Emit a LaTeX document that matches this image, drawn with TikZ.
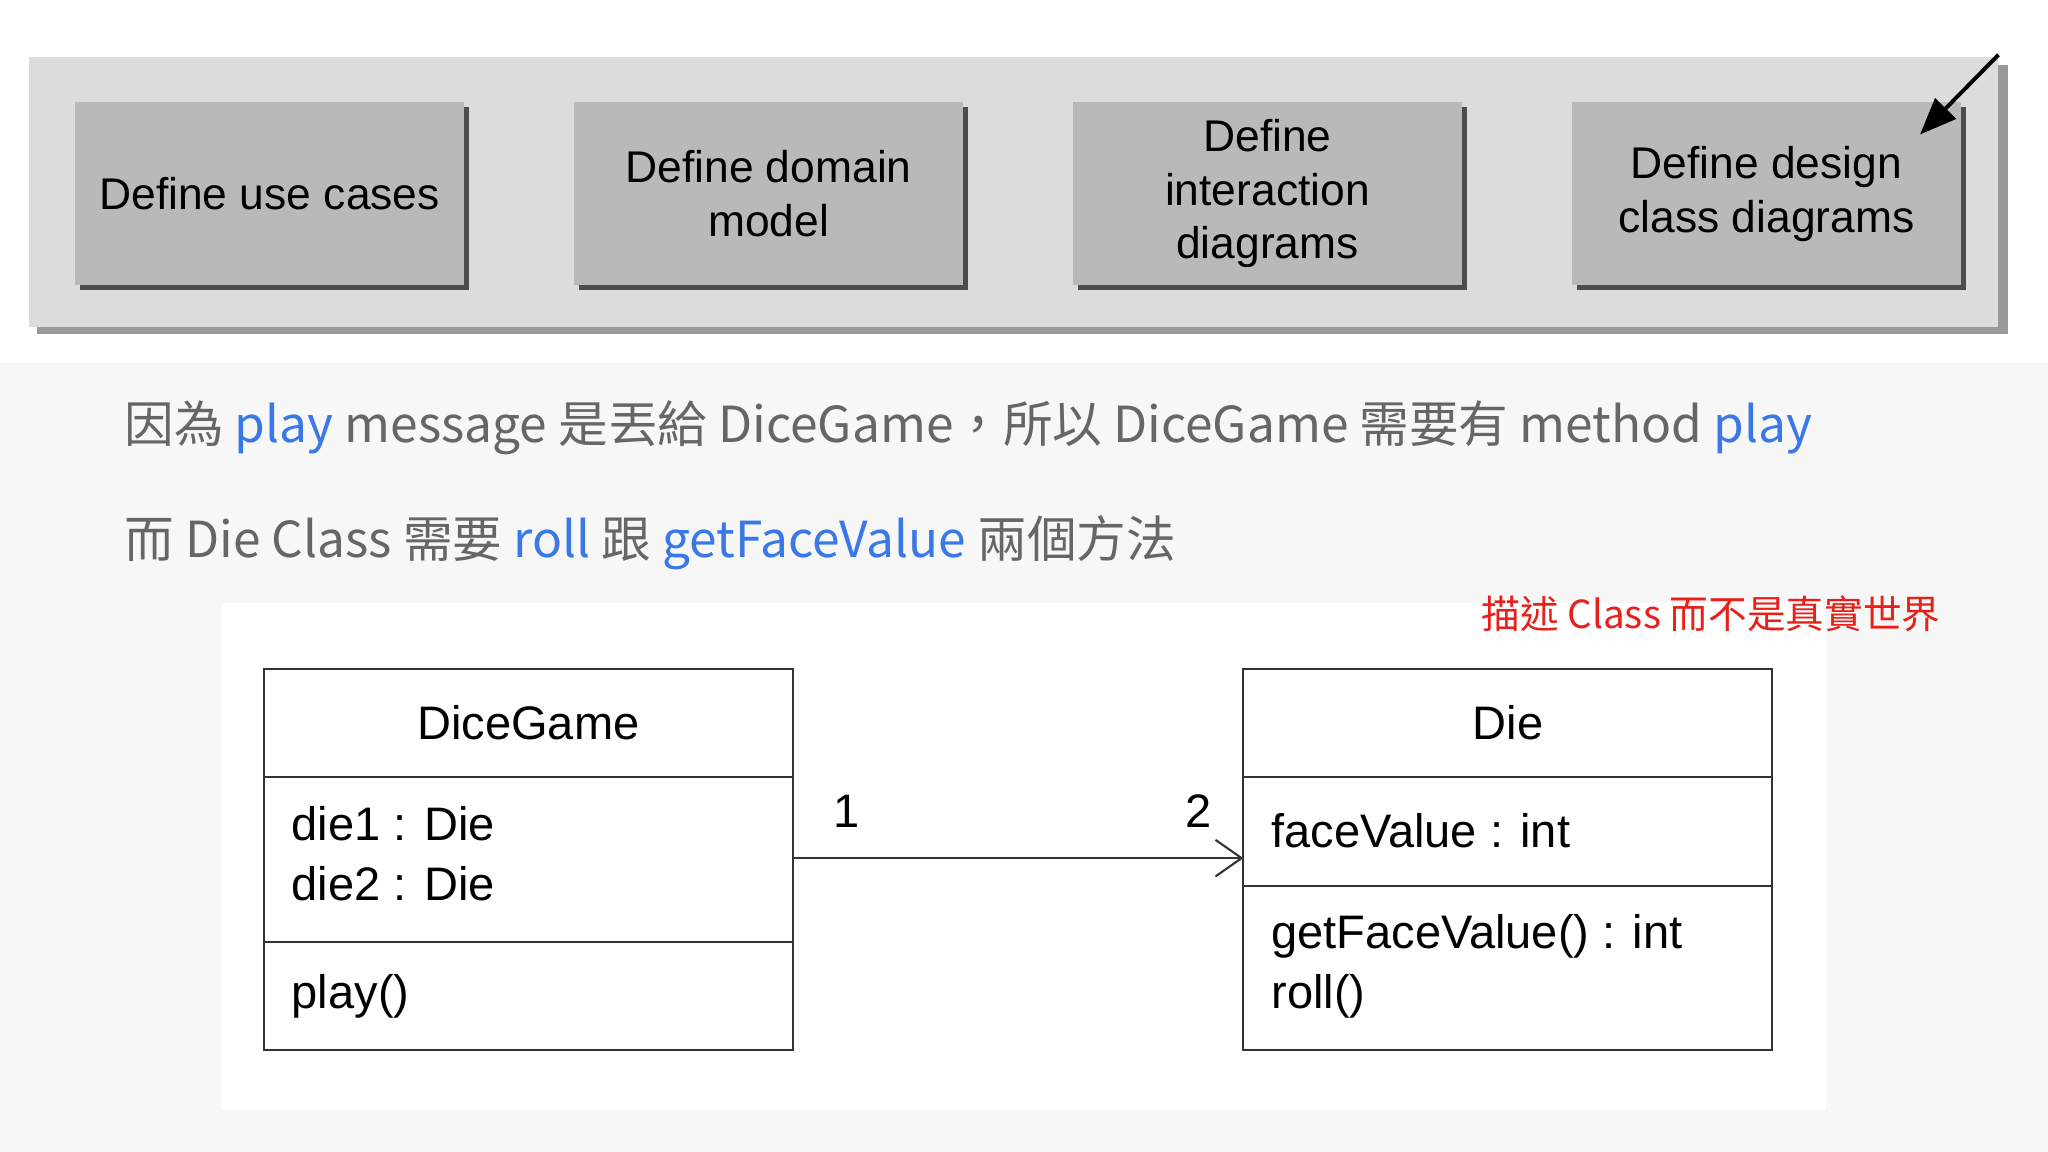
\documentclass[tikz,border=0pt]{standalone}
\usepackage{fontspec}
\setmainfont{Liberation Sans}
\newfontfamily\cjk{Noto Sans CJK TC}
\usetikzlibrary{arrows.meta}
\definecolor{panel}{HTML}{DCDCDC}
\definecolor{boxg}{HTML}{B9B9B9}
\definecolor{txtg}{HTML}{666666}
\definecolor{bl}{HTML}{3B78E7}
\definecolor{rd}{HTML}{E8201A}
\tikzset{
 stepbox/.style={draw=none,fill=boxg,minimum width=149pt,minimum height=70pt,align=center,font=\fontsize{17}{20.5}\selectfont,inner sep=0pt},
 umlbox/.style={draw=black!80,line width=0.8pt},
 umltxt/.style={font=\fontsize{18}{23}\selectfont,inner sep=0pt},
 cjktxt/.style={font=\cjk\fontsize{19}{22}\selectfont,text=txtg,anchor=base west,inner sep=0pt}
}
\begin{document}
\begin{tikzpicture}[x=0.5pt,y=-0.5pt]
\useasboundingbox (0,0) rectangle (1568,882);
\fill[white] (0,0) rectangle (1568,278);
\fill[black!3] (0,278) rectangle (1568,882);
% panel
\fill[black!40] (28,50) rectangle (1537,256);
\fill[panel] (22,44) rectangle (1530,250);
\foreach \x/\n/\t in {57/a/Define use cases,439/b/{Define domain\\model},821/c/{Define\\interaction\\diagrams},1203/d/{Define design\\class diagrams}}{
  \fill[black!70] (\x+4,82) rectangle (\x+302,222);
  \node[stepbox,anchor=north west] (\n) at (\x,78) {\t};
}
\coordinate (as) at (1530,42);
\coordinate (ae) at (1470,103);
\draw[line width=1.5pt,-{Triangle[length=14pt,width=11pt]}] (as) -- (ae);
% texts
\node[cjktxt] (t1) at (95,339) {因為 \textcolor{bl}{play} message 是丟給 DiceGame，所以 DiceGame 需要有 method \textcolor{bl}{play}};
\node[cjktxt] (t2) at (95,427) {而 Die Class 需要 \textcolor{bl}{roll} 跟 \textcolor{bl}{getFaceValue} 兩個方法};
\fill[white] (170,462) rectangle (1398,850);
\node[font=\cjk\fontsize{14.8}{18}\selectfont,text=rd,anchor=east,inner sep=0pt] (red) at (1486,470) {描述 Class 而不是真實世界};
% UML
\draw[umlbox] (202,512) rectangle (607,804);
\draw[umlbox] (202,595) -- (607,595) (202,721) -- (607,721);
\draw[umlbox] (952,512) rectangle (1357,804);
\draw[umlbox] (952,595) -- (1357,595) (952,678) -- (1357,678);
\node[umltxt] (dg) at (404.5,553) {DiceGame};
\node[umltxt,anchor=north west,align=left] (dga) at (223,617) {die1 : Die\\[0pt]die2 : Die};
\node[umltxt,anchor=west] (dgm) at (223,763) {play()};
\node[umltxt] (die) at (1154.5,553) {Die};
\node[umltxt,anchor=west] (diea) at (973,636) {faceValue : int};
\node[umltxt,anchor=north west,align=left] (diem) at (973,700) {getFaceValue() : int\\[0pt]roll()};
\coordinate (l) at (607,657);
\coordinate (r) at (952,657);
\draw[black!80,line width=0.8pt,-{Straight Barb[length=10pt,width=14pt]}] (l) -- (r);
\node[umltxt] (m1) at (648,621) {1};
\node[umltxt] (m2) at (918,621) {2};
\end{tikzpicture}
\end{document}
